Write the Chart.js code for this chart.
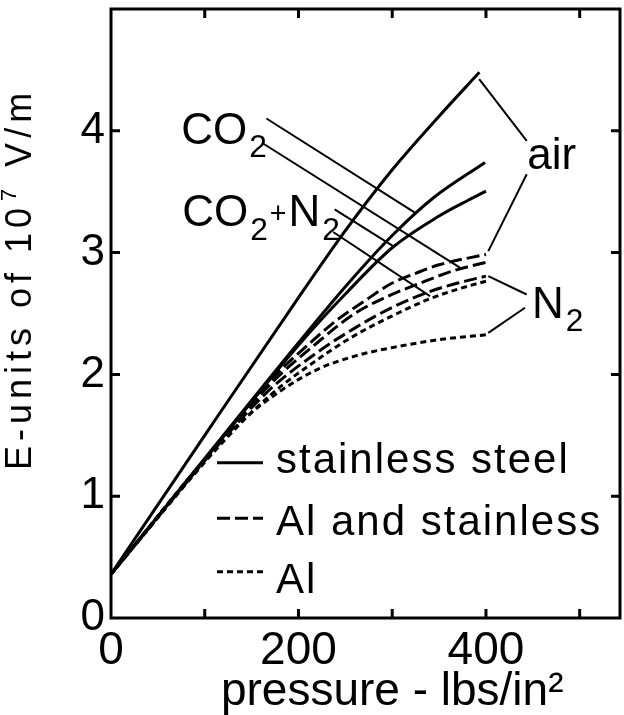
<!DOCTYPE html>
<html>
<head>
<meta charset="utf-8">
<script src="https://cdn.jsdelivr.net/npm/chart.js@4.4.1/dist/chart.umd.min.js"></script>
<style>
  html, body { margin: 0; padding: 0; background: #fff; }
  canvas { display: block; }
</style>
</head>
<body>
<canvas id="chart" width="624" height="715"></canvas>
<script>
const FONT = '"Liberation Sans", Arial, sans-serif';

// axis ticks
const xTicks = [0, 100, 200, 300, 400, 500];
const xTickLabels = ["0", "", "200", "", "400", ""];
const yTicks = [0, 1, 2, 3, 4, 5];
const yTickLabels = ["0", "1", "2", "3", "4", ""];

// stainless steel (solid)
const airSteelP = [0, 100, 200, 250, 300, 350, 393];
const airSteelE = [0.36, 1.5, 2.63, 3.18, 3.68, 4.12, 4.48];
const co2SteelP = [0, 100, 200, 250, 300, 344, 399];
const co2SteelE = [0.36, 1.31, 2.26, 2.72, 3.14, 3.45, 3.74];
const mixSteelP = [0, 100, 200, 250, 300, 350, 381, 400];
const mixSteelE = [0.36, 1.3, 2.24, 2.66, 3.04, 3.3, 3.43, 3.505];

// Al and stainless (long dash)
const airAlSsP = [0, 120, 170, 220, 240, 270, 300, 325, 350, 400];
const airAlSsE = [0.36, 1.49, 1.95, 2.31, 2.44, 2.6, 2.75, 2.83, 2.9, 2.985];
const co2AlSsP = [0, 120, 170, 220, 260, 295, 330, 365, 400];
const co2AlSsE = [0.36, 1.48, 1.92, 2.26, 2.5, 2.64, 2.75, 2.85, 2.92];
const n2AlSsP = [0, 120, 170, 220, 260, 300, 340, 370, 400];
const n2AlSsE = [0.36, 1.47, 1.88, 2.18, 2.38, 2.55, 2.68, 2.75, 2.807];

// Al (short dash)
const mixAlP = [0, 120, 170, 220, 260, 300, 340, 370, 400];
const mixAlE = [0.36, 1.45, 1.83, 2.12, 2.32, 2.48, 2.62, 2.7, 2.765];
const n2AlP = [0, 100, 140, 180, 220, 260, 300, 350, 400];
const n2AlE = [0.36, 1.3, 1.62, 1.86, 2.04, 2.15, 2.22, 2.285, 2.325];

// leader lines [p1, E1, p2, E2]
const leaders = [
  [392.8, 4.424, 443.5, 3.917],
  [443.5, 3.643, 402.5, 3.012],
  [402.5, 2.807, 443.5, 2.656],
  [441.6, 2.547, 402.5, 2.341],
  [165.8, 4.101, 324.2, 3.328],
  [161.4, 3.9, 372.2, 2.876],
  [238.6, 3.355, 301, 3.053],
  [237, 3.169, 340.3, 2.642]
];

const LONG_DASH = [13, 5];
const SHORT_DASH = [6, 4];

function pts(p, e) {
  return p.map((v, i) => ({ x: v, y: e[i] }));
}

function curve(p, e, dash) {
  return {
    data: pts(p, e),
    borderColor: "#000",
    borderWidth: 3,
    borderDash: dash,
    pointRadius: 0,
    fill: false,
    cubicInterpolationMode: "monotone"
  };
}

function drawRich(ctx, parts, x, y, size) {
  let cx = x;
  parts.forEach(([t, kind]) => {
    let s = size, dy = 0;
    if (kind === "sub") { s = size * 0.72; dy = size * 0.3; }
    if (kind === "sup") { s = size * 0.6; dy = -size * 0.42; }
    if (kind === "plus") { s = size * 0.65; dy = -size * 0.08; }
    ctx.font = `${s}px ${FONT}`;
    ctx.fillText(t, cx, y + dy);
    cx += ctx.measureText(t).width + 2;
  });
}

const paperPlugin = {
  id: "paper",
  afterDraw(chart) {
    const { ctx, chartArea: a, scales: { x, y } } = chart;
    ctx.save();
    ctx.strokeStyle = "#000";
    ctx.fillStyle = "#000";
    ctx.lineCap = "butt";

    // frame
    ctx.lineWidth = 3;
    ctx.strokeRect(a.left, a.top, a.right - a.left, a.bottom - a.top);

    // inward tick marks on all four sides
    ctx.beginPath();
    xTicks.forEach(v => {
      if (v <= x.min || v >= x.max) return;
      const px = x.getPixelForValue(v);
      ctx.moveTo(px, a.bottom); ctx.lineTo(px, a.bottom - 9);
      ctx.moveTo(px, a.top); ctx.lineTo(px, a.top + 9);
    });
    yTicks.forEach(v => {
      if (v <= y.min || v >= y.max) return;
      const py = y.getPixelForValue(v);
      ctx.moveTo(a.left, py); ctx.lineTo(a.left + 9, py);
      ctx.moveTo(a.right, py); ctx.lineTo(a.right - 9, py);
    });
    ctx.stroke();

    // leader lines
    ctx.lineWidth = 2;
    ctx.beginPath();
    leaders.forEach(([p1, e1, p2, e2]) => {
      ctx.moveTo(x.getPixelForValue(p1), y.getPixelForValue(e1));
      ctx.lineTo(x.getPixelForValue(p2), y.getPixelForValue(e2));
    });
    ctx.stroke();

    // gas labels
    ctx.textAlign = "left";
    ctx.textBaseline = "alphabetic";
    drawRich(ctx, [["CO"], ["2", "sub"]], x.getPixelForValue(75), y.getPixelForValue(3.89), 44);
    drawRich(ctx, [["CO"], ["2", "sub"], ["+", "plus"], ["N"], ["2", "sub"]], x.getPixelForValue(76), y.getPixelForValue(3.215), 44);
    drawRich(ctx, [["air"]], x.getPixelForValue(444), y.getPixelForValue(3.684), 44);
    drawRich(ctx, [["N"], ["2", "sub"]], x.getPixelForValue(449), y.getPixelForValue(2.467), 44);

    // legend
    const legend = [
      ["stainless steel", [], 462.7, 473],
      ["Al and stainless", LONG_DASH, 518.3, 535],
      ["Al", SHORT_DASH, 571.7, 592.5]
    ];
    ctx.font = `42px ${FONT}`;
    ctx.letterSpacing = "2px";
    legend.forEach(([label, dash, ly, ty]) => {
      ctx.lineWidth = 3;
      ctx.setLineDash(dash);
      ctx.beginPath();
      ctx.moveTo(217, ly);
      ctx.lineTo(263, ly);
      ctx.stroke();
      ctx.setLineDash([]);
      ctx.fillText(label, 276, ty);
    });

    // axis titles
    ctx.letterSpacing = "0px";
    ctx.textAlign = "center";
    ctx.font = `46px ${FONT}`;
    ctx.fillText("pressure - lbs/in\u00b2", x.getPixelForValue(300), 705);

    ctx.save();
    ctx.translate(31, 470);
    ctx.rotate(-Math.PI / 2);
    ctx.textAlign = "left";
    ctx.letterSpacing = "5px";
    drawRich(ctx, [["E-units of 10"], ["7", "sup"], [" V/m"]], 0, 0, 36);
    ctx.restore();

    ctx.restore();
  }
};

new Chart(document.getElementById("chart"), {
  type: "line",
  data: {
    datasets: [
      curve(n2AlP, n2AlE, SHORT_DASH),
      curve(mixAlP, mixAlE, SHORT_DASH),
      curve(n2AlSsP, n2AlSsE, LONG_DASH),
      curve(co2AlSsP, co2AlSsE, LONG_DASH),
      curve(airAlSsP, airAlSsE, LONG_DASH),
      curve(mixSteelP, mixSteelE, []),
      curve(co2SteelP, co2SteelE, []),
      curve(airSteelP, airSteelE, [])
    ]
  },
  options: {
    responsive: false,
    animation: false,
    devicePixelRatio: 1,
    layout: { padding: { top: 9, right: 4, left: 0, bottom: 0 } },
    plugins: { legend: { display: false }, tooltip: { enabled: false } },
    scales: {
      x: {
        type: "linear",
        min: 0,
        max: 543,
        afterBuildTicks: s => { s.ticks = xTicks.map(v => ({ value: v })); },
        afterFit: s => { s.height = 97; s.paddingLeft = 0; s.paddingRight = 0; },
        ticks: {
          autoSkip: false,
          maxRotation: 0,
          padding: 6,
          color: "#000",
          font: { family: FONT, size: 46 },
          callback: (v, i) => xTickLabels[i]
        },
        grid: { display: false, drawTicks: false },
        border: { display: false }
      },
      y: {
        type: "linear",
        min: 0,
        max: 5,
        afterBuildTicks: s => { s.ticks = yTicks.map(v => ({ value: v })); },
        afterFit: s => { s.width = 111; s.paddingTop = 0; s.paddingBottom = 0; },
        ticks: {
          autoSkip: false,
          padding: 6,
          color: "#000",
          font: { family: FONT, size: 44 },
          callback: (v, i) => yTickLabels[i]
        },
        grid: { display: false, drawTicks: false },
        border: { display: false }
      }
    }
  },
  plugins: [paperPlugin]
});
</script>
</body>
</html>
